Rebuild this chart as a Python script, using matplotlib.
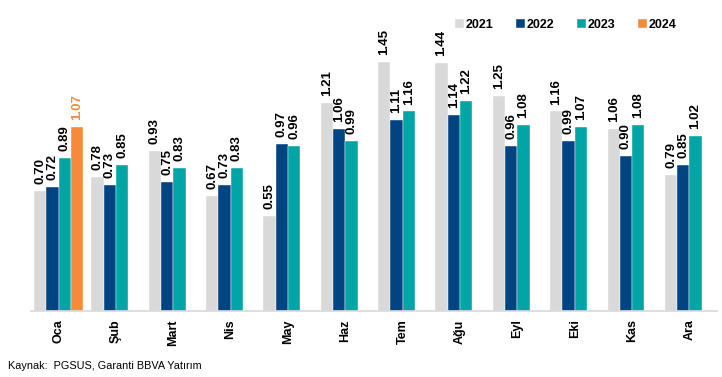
import matplotlib
matplotlib.use("Agg")
import matplotlib.pyplot as plt
import numpy as np

months = ["Oca", "Şub", "Mart", "Nis", "May", "Haz", "Tem", "Ağu", "Eyl", "Eki", "Kas", "Ara"]
years = ["2021", "2022", "2023", "2024"]
v2021 = [0.70, 0.78, 0.93, 0.67, 0.55, 1.21, 1.45, 1.44, 1.25, 1.16, 1.06, 0.79]
v2022 = [0.72, 0.73, 0.75, 0.73, 0.97, 1.06, 1.11, 1.14, 0.96, 0.99, 0.90, 0.85]
v2023 = [0.89, 0.85, 0.83, 0.83, 0.96, 0.99, 1.16, 1.22, 1.08, 1.07, 1.08, 1.02]
v2024 = [1.07] + [np.nan] * 11
series = [v2021, v2022, v2023, v2024]
colors = ["#D9D9D9", "#004481", "#02A5A5", "#F7893B"]
label_colors = ["#000000", "#000000", "#000000", "#F7893B"]

plt.rcParams['font.family'] = ['Liberation Sans', 'DejaVu Sans']

fig = plt.figure(figsize=(7.22, 3.77), dpi=100)
ax = fig.add_axes([31/722, 1 - 311/377, (717 - 31)/722, (311 - 10)/377])

x = np.arange(len(months))
w = 0.2145
handles = []
for i, (vals, c, lc) in enumerate(zip(series, colors, label_colors)):
    off = (i - 1.5) * w
    b = ax.bar(x + off, vals, width=w, color=c, edgecolor="white", linewidth=0.3, label=years[i])
    handles.append(b)
    for xi, v in zip(x, vals):
        if np.isnan(v):
            continue
        ax.annotate(f"{v:.2f}", (xi + off, v), xytext=(0, 5), textcoords="offset points",
                    rotation=90, ha="center", va="bottom", fontsize=9.5, fontweight="bold", color=lc)

ax.set_xlim(-0.48, 11.48)
ax.set_ylim(0, 1.75)
ax.set_yticks([])
ax.set_xticks(x)
ax.set_xticklabels(months, rotation=90, fontsize=9, fontweight="bold")
ax.tick_params(axis="x", length=0, pad=6)
for s in ["top", "right", "left"]:
    ax.spines[s].set_visible(False)
ax.spines["bottom"].set_color("#D9D9D9")
ax.spines["bottom"].set_linewidth(1.2)

leg = fig.legend(handles=handles, loc="center left", bbox_to_anchor=(444/722, 1 - 25/377),
                 ncol=4, frameon=False, handlelength=0.7, handleheight=0.7, handletextpad=0.15,
                 columnspacing=1.8, prop={"weight": "bold", "size": 9})

fig.text(8/722, 1 - 366/377, "Kaynak:  PGSUS, Garanti BBVA Yatırım", fontsize=7.8, va="center", ha="left")

fig.savefig("out.png", dpi=100)
